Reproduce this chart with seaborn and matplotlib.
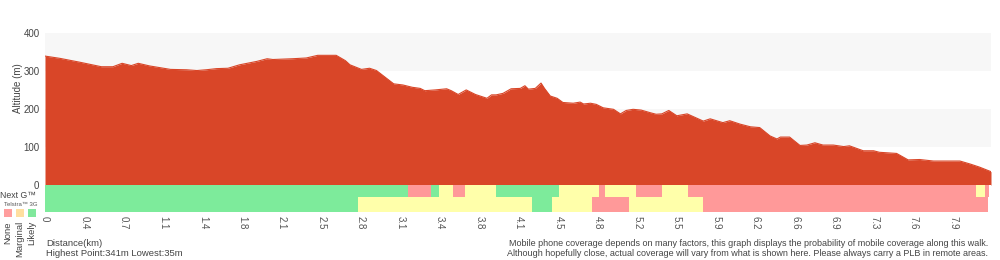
#!/usr/bin/env python3
"""
Walk elevation profile with mobile coverage strips underneath.
"""
import matplotlib
matplotlib.use("Agg")
import matplotlib.pyplot as plt
from matplotlib.patches import Rectangle
import seaborn as sns

# elevation profile
distance_km = [0.00, 0.13, 0.30, 0.49, 0.59, 0.67, 0.75, 0.81, 0.91, 1.09, 1.23, 1.32,
               1.40, 1.49, 1.59, 1.69, 1.84, 1.93, 1.98, 2.15, 2.27, 2.37, 2.53, 2.61,
               2.65, 2.75, 2.82, 2.88, 2.94, 3.03, 3.11, 3.19, 3.26, 3.30, 3.39, 3.49,
               3.53, 3.59, 3.66, 3.74, 3.84, 3.88, 3.92, 3.98, 4.05, 4.13, 4.17, 4.20,
               4.26, 4.31, 4.34, 4.39, 4.45, 4.50, 4.59, 4.65, 4.68, 4.74, 4.79, 4.85,
               4.94, 5.00, 5.05, 5.11, 5.18, 5.26, 5.31, 5.36, 5.42, 5.49, 5.58, 5.72,
               5.78, 5.89, 5.95, 6.04, 6.13, 6.21, 6.30, 6.36, 6.39, 6.47, 6.56, 6.62,
               6.69, 6.76, 6.85, 6.94, 6.99, 7.11, 7.20, 7.25, 7.40, 7.50, 7.60, 7.72,
               7.83, 7.95, 8.04, 8.12, 8.22]
altitude_m = [339, 333, 323, 311, 311, 320, 314, 320, 313, 304, 303, 301,
              303, 306, 307, 316, 325, 332, 330, 332, 334, 341, 341, 327,
              316, 304, 307, 301, 287, 266, 263, 257, 254, 248, 250, 253,
              248, 238, 250, 238, 228, 237, 237, 241, 253, 254, 261, 252,
              254, 268, 254, 234, 228, 217, 215, 218, 213, 215, 212, 203,
              199, 187, 196, 199, 197, 190, 186, 187, 196, 182, 187, 168,
              174, 164, 169, 160, 153, 151, 129, 121, 126, 126, 104, 105,
              111, 105, 105, 101, 103, 90, 90, 86, 83, 66, 67, 63,
              63, 63, 55, 47, 35]

tick_labels = ["0", "0.4", "0.7", "1.1", "1.4", "1.8", "2.1", "2.5", "2.8", "3.1", "3.4", "3.8",
               "4.1", "4.5", "4.8", "5.2", "5.5", "5.9", "6.2", "6.6", "6.9", "7.3", "7.6", "7.9"]
tick_step_km = 0.3432
total_km = 8.22

# coverage strips: segment edges (km) and level of each segment
nextg_edges = [0, 3.15, 3.354, 3.423, 3.545, 3.649, 3.918, 4.466, 4.813, 4.865,
               5.135, 5.361, 5.586, 8.089, 8.167, 8.20]
nextg_levels = ["Likely", "None", "Likely", "Marginal", "None", "Marginal", "Likely",
                "Marginal", "None", "Marginal", "None", "Marginal", "None", "Marginal", "None"]
g3_edges = [0, 2.719, 4.231, 4.405, 4.752, 5.071, 5.717, 8.19]
g3_levels = ["Likely", "Marginal", "Likely", "Marginal", "None", "Marginal", "None"]

LEVEL_COLORS = {"None": "#ff9999", "Marginal": "#ffffaa", "Likely": "#7deb9b"}
LEGEND_COLORS = {"None": "#ff9e9e", "Marginal": "#ffdfa0", "Likely": "#80e89c"}
RED = "#d94628"
TEXT = "#444444"

sns.set_theme(style="white")
plt.rcParams["font.family"] = ["Liberation Sans", "DejaVu Sans"]


def strip(ax, edges, levels, y0, h):
    for left, right, level in zip(edges[:-1], edges[1:], levels):
        ax.broken_barh([(left, right - left)], (y0, h), facecolors=LEVEL_COLORS[level],
                       edgecolors="none", linewidth=0, antialiased=False)


fig = plt.figure(figsize=(10, 2.6), dpi=100)

ax = fig.add_axes([0.045, 0.2885, 0.946, 0.585])
ax.axhspan(300, 400, color="#f7f7f7", lw=0)
ax.axhspan(100, 200, color="#f7f7f7", lw=0)
ax.fill_between(distance_km, altitude_m, 0, color=RED, lw=0)
sns.lineplot(x=distance_km, y=altitude_m, color=RED, lw=0.8, ax=ax)
ax.set_xlim(0, total_km)
ax.set_ylim(0, 400)
ax.set_yticks([0, 100, 200, 300, 400])
ax.tick_params(axis="y", labelsize=7, colors=TEXT, length=0, pad=4)
ax.set_xticks([])
ax.set_xlabel("")
for s in ax.spines.values():
    s.set_visible(False)

cax = fig.add_axes([0.045, 0.1846, 0.946, 0.1038])
strip(cax, g3_edges, g3_levels, 0, 15)
strip(cax, nextg_edges, nextg_levels, 15, 12)
cax.set_xlim(0, total_km)
cax.set_ylim(0, 27)
cax.set_yticks([])
cax.set_xticks([i * tick_step_km for i in range(len(tick_labels))])
cax.set_xticklabels(tick_labels, rotation=-90, fontsize=7, color="#555555")
cax.tick_params(axis="x", length=0, pad=3)
for s in cax.spines.values():
    s.set_visible(False)

fig.text(0.018, 1 - 88 / 260, "Altitude (m)", rotation=90, ha="center", va="center",
         fontsize=7, color=TEXT)
fig.text(0.0, 1 - 195 / 260, "Next G™", ha="left", va="center", fontsize=6.3, color=TEXT)
fig.text(0.004, 1 - 204.5 / 260, "Telstra™ 3G", ha="left", va="center", fontsize=4.3,
         color="#555555")

for i, level in enumerate(["None", "Marginal", "Likely"]):
    x0 = (4 + 12 * i) / 1000
    fig.patches.append(Rectangle((x0, 1 - 217 / 260), 8 / 1000, 8 / 260,
                                 transform=fig.transFigure, facecolor=LEGEND_COLORS[level],
                                 edgecolor="none"))
    fig.text(x0 + 4 / 1000, 1 - 221 / 260, level, rotation=90, ha="center", va="top",
             fontsize=6.8, color=TEXT)

fig.text(0.046, 1 - 243 / 260, "Distance(km)", ha="left", va="center", fontsize=6.8, color=TEXT)
fig.text(0.046, 1 - 253 / 260, "Highest Point:341m Lowest:35m", ha="left", va="center",
         fontsize=6.8, color=TEXT)
fig.text(0.988, 1 - 243 / 260,
         "Mobile phone coverage depends on many factors, this graph displays the probability of mobile coverage along this walk.",
         ha="right", va="center", fontsize=6.45, color=TEXT)
fig.text(0.988, 1 - 253 / 260,
         "Although hopefully close, actual coverage will vary from what is shown here. Please always carry a PLB in remote areas.",
         ha="right", va="center", fontsize=6.45, color=TEXT)

fig.savefig("out.png", dpi=100)
